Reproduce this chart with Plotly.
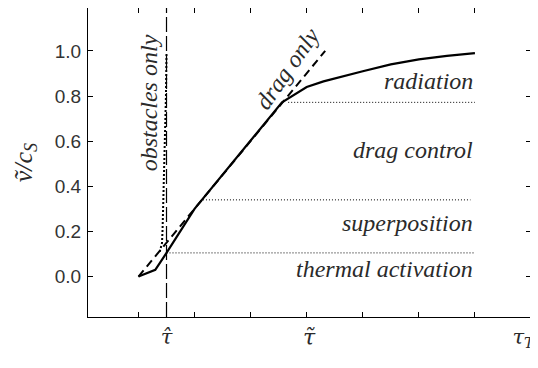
import plotly.graph_objects as go

# ---- data ----
solid_x = [0, 0.3, 0.5, 1.0, 2.56, 2.8, 3.0, 3.3, 3.6, 4.0, 4.5, 5.0, 5.5, 6.0]
solid_y = [0, 0.03, 0.105, 0.30, 0.772, 0.81, 0.84, 0.865, 0.885, 0.91, 0.94, 0.962, 0.978, 0.99]

drag_x = [0, 3.33]
drag_y = [0, 1.0]

obst_x = [0.38, 0.42, 0.43, 0.44, 0.45, 0.47, 0.49, 0.5]
obst_y = [0.11, 0.15, 0.21, 0.30, 0.45, 0.60, 0.80, 0.99]

tau_hat = 0.5
vline_y = [-0.179, 1.19]

regime_levels = [0.105, 0.34, 0.772]
regime_start = [0.5, 1.15, 2.67]
regime_end = [6.0, 5.92, 6.0]

region_labels = ["radiation", "drag control", "superposition", "thermal activation"]
region_label_y = [0.868, 0.563, 0.237, 0.034]
region_label_x = 6.0

xtick_vals = [0, 1, 2, 3, 4, 5, 6]
ytick_vals = [0.0, 0.2, 0.4, 0.6, 0.8, 1.0]
ytick_text = ["0.0", "0.2", "0.4", "0.6", "0.8", "1.0"]
x2tick_vals = [0.5, 6.86]
x2tick_text = ["<i>τ̂</i>", "<i>τ<sub>T</sub></i>"]

XR = [-0.9, 7.0]
YR = [-0.179, 1.19]

SERIF = "Liberation Serif"
GREEK = "DejaVu Serif"
SANS = "Liberation Sans"
TXT = "#2a2a2a"

fig = go.Figure()

# horizontal dotted regime boundaries
for lvl, x0, x1 in zip(regime_levels, regime_start, regime_end):
    fig.add_trace(go.Scatter(x=[x0, x1], y=[lvl, lvl], mode="lines",
                             line=dict(color="black", width=1, dash="1px,2px"),
                             showlegend=False, hoverinfo="skip"))

# vertical long-dashed line at tau hat
fig.add_trace(go.Scatter(x=[tau_hat, tau_hat], y=vline_y, mode="lines",
                         line=dict(color="black", width=1.2, dash="15px,4px"),
                         showlegend=False, hoverinfo="skip"))

# obstacles only (dotted)
fig.add_trace(go.Scatter(x=obst_x, y=obst_y, mode="lines",
                         line=dict(color="black", width=2, dash="2px,2px"),
                         showlegend=False, hoverinfo="skip"))

# drag only (dashed)
fig.add_trace(go.Scatter(x=drag_x, y=drag_y, mode="lines",
                         line=dict(color="black", width=2, dash="8px,5px"),
                         showlegend=False, hoverinfo="skip"))

# full solution (solid)
fig.add_trace(go.Scatter(x=solid_x, y=solid_y, mode="lines",
                         line=dict(color="black", width=2.2),
                         showlegend=False, hoverinfo="skip"))

# dummy trace for the secondary x axis carrying the tick labels
fig.add_trace(go.Scatter(x=[0.5], y=[None], xaxis="x2", mode="lines",
                         showlegend=False, hoverinfo="skip"))

for txt, yy in zip(region_labels, region_label_y):
    fig.add_annotation(x=region_label_x, y=yy, text="<i>" + txt + "</i>", showarrow=False,
                       xanchor="right", yanchor="middle",
                       font=dict(family=SERIF, size=24, color=TXT))

fig.add_annotation(x=0.18, y=0.77, text="<i>obstacles only</i>", textangle=-90, showarrow=False,
                   font=dict(family=SERIF, size=24, color=TXT))
fig.add_annotation(x=2.65, y=0.92, text="<i>drag only</i>", textangle=-55, showarrow=False,
                   font=dict(family=SERIF, size=24, color=TXT))

# x-axis title
fig.add_annotation(x=0.5, y=-0.02, xref="paper", yref="paper", text="<i>τ̃</i>",
                   showarrow=False, yanchor="top",
                   font=dict(family=GREEK, size=22, color=TXT))

# the page adds an 8px body margin, so the figure is sized/offset to compensate
fig.update_layout(
    width=530, height=360,
    margin=dict(l=80, r=7, t=0, b=51, autoexpand=False),
    plot_bgcolor="white", paper_bgcolor="white",
    xaxis=dict(range=XR, tickvals=xtick_vals, showticklabels=False, automargin=False,
               ticks="inside", ticklen=5, tickcolor="black", tickwidth=1,
               showline=True, linecolor="black", linewidth=1.3, mirror="ticks",
               showgrid=False, zeroline=False),
    xaxis2=dict(range=XR, overlaying="x", side="bottom", tickvals=x2tick_vals,
                ticktext=x2tick_text, ticks="", showline=False, showgrid=False,
                zeroline=False, ticklabeloverflow="allow", ticklabelstandoff=5,
                automargin=False,
                tickfont=dict(family=GREEK, size=21, color=TXT)),
    yaxis=dict(range=YR, tickvals=ytick_vals, ticktext=ytick_text, automargin=False,
               ticks="inside", ticklen=5, tickcolor="black", tickwidth=1,
               showline=True, linecolor="black", linewidth=1.3, mirror="ticks",
               showgrid=False, zeroline=False, ticklabelstandoff=2,
               tickfont=dict(family=SANS, size=19, color="#333333"),
               title=dict(text="<i>ṽ/c<sub>S</sub></i>", standoff=14,
                          font=dict(family=SERIF, size=26, color=TXT))),
)

fig.write_html("out.html")
